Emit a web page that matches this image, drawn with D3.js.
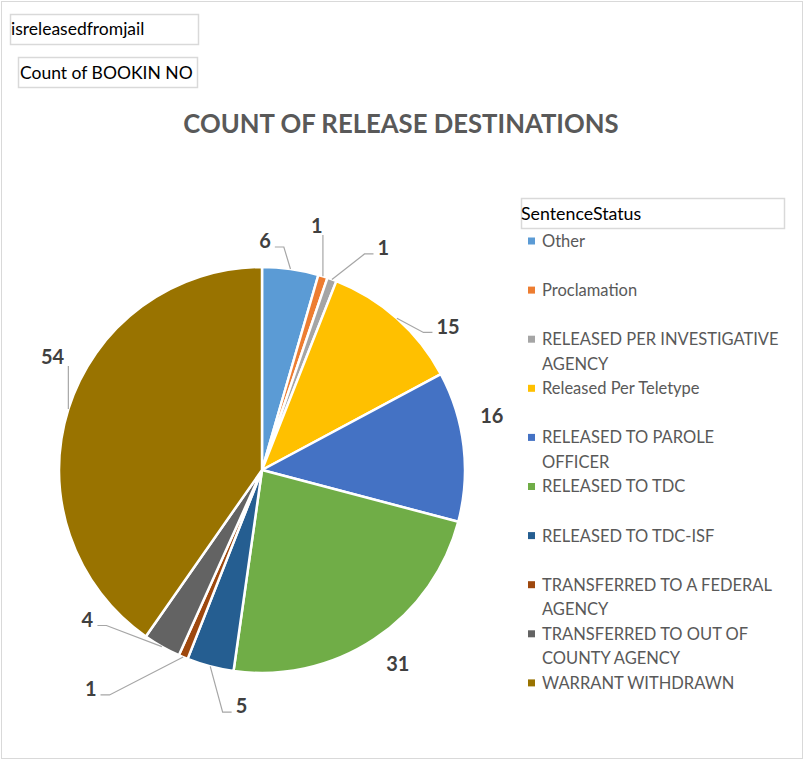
<!DOCTYPE html>
<html><head><meta charset="utf-8">
<script src="https://cdn.jsdelivr.net/npm/d3@7"></script>
<style>body{margin:0;background:#fff;} svg{display:block;}</style>
</head><body>
<svg id="chart" width="804" height="760"></svg>
<script>
const categories = ["Other","Proclamation","RELEASED PER INVESTIGATIVE AGENCY","Released Per Teletype","RELEASED TO PAROLE OFFICER","RELEASED TO TDC","RELEASED TO TDC-ISF","TRANSFERRED TO A FEDERAL AGENCY","TRANSFERRED TO OUT OF COUNTY AGENCY","WARRANT WITHDRAWN"];
const values = [6,1,1,15,16,31,5,1,4,54];
const colors = ["#5B9BD5","#ED7D31","#A5A5A5","#FFC000","#4472C4","#70AD47","#255E91","#9E480E","#636363","#997300"];
// label layout hints: angular nudge from slice middle (deg), label radius, leader shown
const labelNudge = [-7.3,-4.8,8.5,10.7,-6.5,-1.4,-9.8,15.2,19.9,10.9];
const labelRadius = [229,250,253,235,236,237,237,278,230,238];
const showLeader = [true,true,true,true,false,false,true,true,true,true];

const svg = d3.select("#chart");
const W = 804, H = 760;
svg.append("rect").attr("x",1.5).attr("y",1.5).attr("width",W-3).attr("height",H-3)
  .attr("fill","#fff").attr("stroke","#d9d9d9").attr("stroke-width",1);

// filter boxes
function box(x,y,w,h,text,tx,ty){
  svg.append("rect").attr("x",x+0.5).attr("y",y+0.5).attr("width",w).attr("height",h)
    .attr("fill","#fff").attr("stroke","#d9d9d9").attr("stroke-width",1.5);
  svg.append("text").attr("x",tx).attr("y",ty).text(text)
    .attr("font-family","Lato, 'Open Sans', sans-serif").attr("font-size",17.5).attr("fill","#000");
}
box(10,14,188,30,"isreleasedfromjail",11,35);
box(18,57,179,30,"Count of BOOKIN NO",20,79);

svg.append("text").attr("x",401).attr("y",133).attr("text-anchor","middle")
  .attr("font-family","Lato, sans-serif").attr("font-weight","bold").attr("font-size",25.7)
  .attr("fill","#595959").text("COUNT OF RELEASE DESTINATIONS");

const cx = 262, cy = 470, R = 203;
const pie = d3.pie().sort(null).value(d=>d)(values);
const arc = d3.arc().innerRadius(0).outerRadius(R);
const g = svg.append("g").attr("transform",`translate(${cx},${cy})`);
g.selectAll("path").data(pie).join("path")
  .attr("d",arc).attr("fill",(d,i)=>colors[i]).attr("stroke","#fff").attr("stroke-width",2.5)
  .attr("stroke-linejoin","round");

const fs = 20;
pie.forEach((d,i)=>{
  const mid = (d.startAngle+d.endAngle)/2;
  const la = mid + labelNudge[i]*Math.PI/180;
  const lx = labelRadius[i]*Math.sin(la), ly = -labelRadius[i]*Math.cos(la);
  const t = g.append("text").attr("x",lx).attr("y",ly+0.36*fs).attr("text-anchor","middle")
    .attr("font-family","Lato, sans-serif").attr("font-weight","bold").attr("font-size",fs)
    .attr("fill","#404040").text(values[i]);
  if(!showLeader[i]) return;
  const bb = t.node().getBBox();
  const ax = R*Math.sin(mid), ay = -R*Math.cos(mid);
  const left = bb.x, right = bb.x+bb.width;
  let pts;
  if(ax >= left-8 && ax <= right+8){
    const ey = ay < ly ? ly - 9 : ly + 9;
    pts = [[ax,ay],[ax,ey]];
  } else if(ax > right){
    const yy = ly+6;
    pts = [[ax,ay],[right+13,yy],[right+4,yy]];
  } else {
    const yy = ly+6;
    pts = [[ax,ay],[left-13,yy],[left-4,yy]];
  }
  g.insert("path","text").attr("d",d3.line()(pts)).attr("fill","none")
    .attr("stroke","#a6a6a6").attr("stroke-width",1.2);
});

// legend
svg.append("rect").attr("x",521.5).attr("y",198.5).attr("width",263).attr("height",30)
  .attr("fill","#fff").attr("stroke","#d9d9d9").attr("stroke-width",1.5);
svg.append("text").attr("x",521).attr("y",220).text("SentenceStatus")
  .attr("font-family","Lato, sans-serif").attr("font-size",17.8).attr("fill","#000");

const lg = svg.append("g");
const lfs = 16.5, maxW = 240, lineH = 24.5, slot = 49.1, ly0 = 241;
categories.forEach((c,i)=>{
  const yc = ly0 + i*slot;
  lg.append("rect").attr("x",528).attr("y",yc-3.5).attr("width",7).attr("height",7).attr("fill",colors[i]);
  const t = lg.append("text").attr("font-family","Lato, sans-serif").attr("font-size",lfs).attr("fill","#595959");
  const words = c.split(" ");
  let line = [], lineNo = 0;
  let ts = t.append("tspan").attr("x",542).attr("y",yc+0.36*lfs);
  words.forEach(w=>{
    line.push(w); ts.text(line.join(" "));
    if(ts.node().getComputedTextLength() > maxW && line.length>1){
      line.pop(); ts.text(line.join(" "));
      line=[w]; lineNo++;
      ts = t.append("tspan").attr("x",542).attr("y",yc+lineNo*lineH+0.36*lfs).text(w);
    }
  });
});
</script>
</body></html>
